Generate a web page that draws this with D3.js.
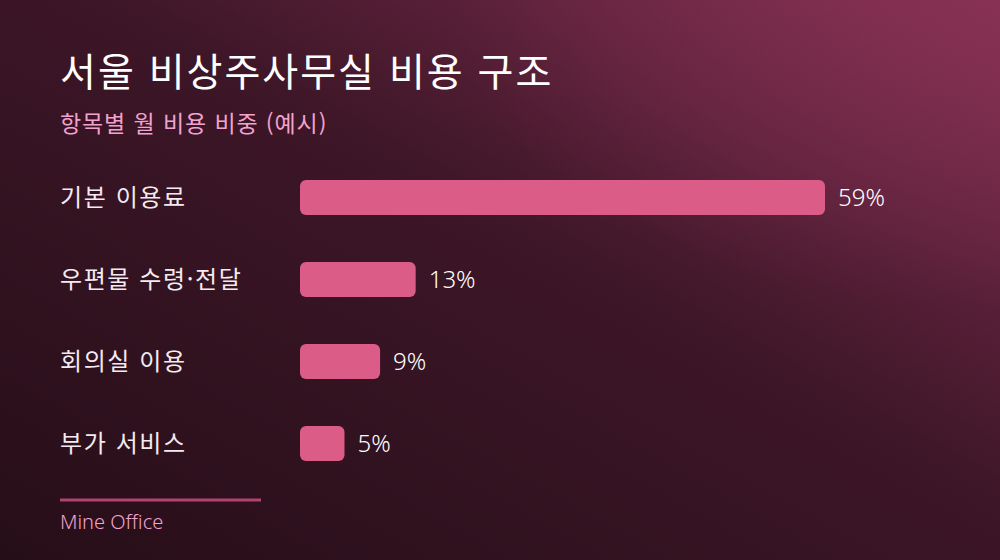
<!DOCTYPE html>
<html lang="ko">
<head>
  <meta charset="UTF-8" />
  <title>서울 비상주사무실 비용 구조</title>
  <script src="https://d3js.org/d3.v7.min.js"></script>
  <style>
    html, body { margin: 0; padding: 0; background: #2a0f1a; }
    svg { display: block; font-family: "Noto Sans CJK KR", "Noto Sans", sans-serif; }
  </style>
</head>
<body>
  <div id="chart"></div>

  <script>
    const categories = ["기본 이용료", "우편물 수령·전달", "회의실 이용", "부가 서비스"];
    const shares = [59, 13, 9, 5];

    const width = 1000, height = 560;
    const margin = {top: 180, left: 300, right: 175};
    const rowStep = 82, barH = 35;

    const svg = d3.select("#chart")
      .append("svg")
      .attr("width", width)
      .attr("height", height);

    // background
    const defs = svg.append("defs");
    const lin = defs.append("linearGradient")
      .attr("id", "bg")
      .attr("x1", "1").attr("y1", "0")
      .attr("x2", "0").attr("y2", "1");
    lin.append("stop").attr("offset", "0%").attr("stop-color", "#832f52");
    lin.append("stop").attr("offset", "45%").attr("stop-color", "#3d1627");
    lin.append("stop").attr("offset", "100%").attr("stop-color", "#260e18");

    const glow = defs.append("radialGradient")
      .attr("id", "glow")
      .attr("cx", "1").attr("cy", "0").attr("r", "0.55");
    glow.append("stop").attr("offset", "0%").attr("stop-color", "#8a3356").attr("stop-opacity", 0.6);
    glow.append("stop").attr("offset", "100%").attr("stop-color", "#8a3356").attr("stop-opacity", 0);

    svg.append("rect").attr("width", width).attr("height", height).attr("fill", "url(#bg)");
    svg.append("rect").attr("width", width).attr("height", height).attr("fill", "url(#glow)");

    // titles
    svg.append("text")
      .attr("x", 60).attr("y", 86)
      .attr("fill", "#ffffff")
      .style("font-size", "39px")
      .style("font-weight", 400)
      .style("letter-spacing", "2px")
      .text("서울 비상주사무실 비용 구조");

    svg.append("text")
      .attr("x", 60).attr("y", 132)
      .attr("fill", "#f2a2cf")
      .style("font-size", "23px")
      .style("letter-spacing", "0.9px")
      .text("항목별 월 비용 비중 (예시)");

    // scales
    const x = d3.scaleLinear()
      .domain([0, d3.max(shares)])
      .range([margin.left, width - margin.right]);

    const y = d3.scaleBand()
      .domain(categories)
      .range([margin.top, margin.top + rowStep * (categories.length - 1) + barH])
      .paddingInner((rowStep - barH) / rowStep)
      .paddingOuter(0);

    const rows = svg.selectAll("g.row")
      .data(categories.map((c, i) => ({c, v: shares[i]})))
      .enter()
      .append("g")
      .attr("class", "row");

    rows.append("text")
      .attr("x", 60)
      .attr("y", d => y(d.c) + y.bandwidth() / 2)
      .attr("dy", "0.35em")
      .attr("fill", "#f4eaf0")
      .style("font-size", "24px")
      .style("letter-spacing", "1.6px")
      .text(d => d.c);

    rows.append("rect")
      .attr("x", x(0))
      .attr("y", d => y(d.c))
      .attr("width", d => x(d.v) - x(0))
      .attr("height", y.bandwidth())
      .attr("rx", 6)
      .attr("fill", "#dc5c88");

    rows.append("text")
      .attr("x", d => x(d.v) + 13)
      .attr("y", d => y(d.c) + y.bandwidth() / 2)
      .attr("dy", "0.35em")
      .attr("fill", "#ffffff")
      .style("font-family", "'Noto Sans', sans-serif")
      .style("font-size", "24px")
      .style("font-weight", 300)
      .text(d => d.v + "%");

    // footer
    svg.append("line")
      .attr("x1", 60).attr("x2", 261)
      .attr("y1", 500).attr("y2", 500)
      .attr("stroke", "#b2426f")
      .attr("stroke-width", 3);

    svg.append("text")
      .attr("x", 60).attr("y", 529)
      .attr("fill", "#f2a2cf")
      .style("font-family", "'Noto Sans', sans-serif")
      .style("font-size", "20px")
      .style("font-weight", 300)
      .text("Mine Office");
  </script>
</body>
</html>
